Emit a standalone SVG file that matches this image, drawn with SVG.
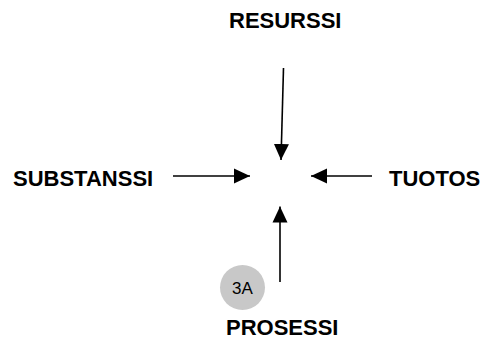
<svg xmlns="http://www.w3.org/2000/svg" width="482" height="339" viewBox="0 0 482 339">
<style>
.lbl{font-family:"Liberation Sans",Arial,sans-serif;font-weight:bold;font-size:22px;fill:#000}
.num{font-family:"Liberation Sans",Arial,sans-serif;font-size:17px;fill:#000}
.conn{stroke:#000;stroke-width:1.6;fill:none}
</style>
<defs>
<marker id="ah" markerUnits="userSpaceOnUse" markerWidth="16" markerHeight="16" viewBox="0 0 16 16" refX="16" refY="8" orient="auto">
<path d="M0,0.5 L16,8 L0,15.5 Z" fill="#000"/>
</marker>
</defs>
<rect width="482" height="339" fill="#fff"/>
<g id="resurssi"><text class="lbl" x="229" y="28">RESURSSI</text></g>
<g id="substanssi"><text class="lbl" x="13" y="186">SUBSTANSSI</text></g>
<g id="tuotos"><text class="lbl" x="389" y="186">TUOTOS</text></g>
<g id="prosessi"><text class="lbl" x="226" y="335">PROSESSI</text></g>
<g id="badge"><circle cx="242.5" cy="287.5" r="22.5" fill="#c8c8c8"/><text class="num" x="242.5" y="293.5" text-anchor="middle">3A</text></g>
<g id="connectors">
<line class="conn" x1="283.5" y1="68" x2="281" y2="160" marker-end="url(#ah)"/>
<line class="conn" x1="173" y1="176" x2="250" y2="176" marker-end="url(#ah)"/>
<line class="conn" x1="372" y1="176" x2="311" y2="176" marker-end="url(#ah)"/>
<line class="conn" x1="280" y1="282" x2="280" y2="206.5" marker-end="url(#ah)"/>
</g>
</svg>
